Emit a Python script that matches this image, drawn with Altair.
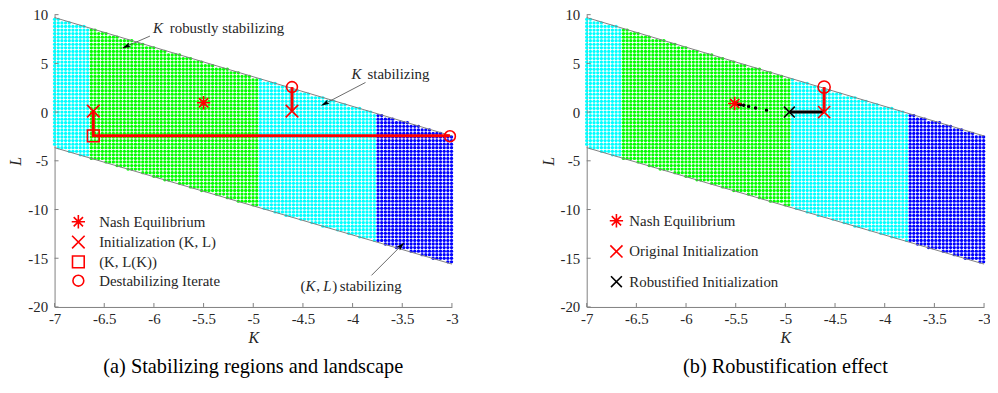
import altair as alt
import numpy as np
import pandas as pd

# ---------------- data ----------------
# sampling grid of the (K, L) plane
K_START, K_STOP, K_STEP = -7.0, -3.0, 0.037
L_START, L_STOP, L_STEP = -16.1, 10.0, 0.366
# stabilizing-region boundary lines (K, L end points)
upper_K = [-7.0, -3.0]
upper_L = [9.7, -2.45]
lower_K = [-7.0, -3.0]
lower_L = [-3.65, -15.6]
# colour bands along K
band_edges = [-7.0, -6.66, -4.95, -3.78, -3.0]
band_colors = ["#00ffff", "#00ff00", "#00ffff", "#0000ff"]

x_ticks = [-7, -6.5, -6, -5.5, -5, -4.5, -4, -3.5, -3]
y_ticks = [-20, -15, -10, -5, 0, 5, 10]

# panel (a) markers
a_kind = ["Nash Equilibrium", "Initialization (K, L)", "Initialization (K, L)",
          "(K, L(K))", "Destabilizing Iterate", "Destabilizing Iterate"]
a_K = [-5.50, -6.61, -4.61, -6.61, -3.02, -4.61]
a_L = [0.96, 0.10, 0.10, -2.44, -2.48, 2.57]
a_legend = ["Nash Equilibrium", "Initialization (K, L)", "(K, L(K))", "Destabilizing Iterate"]

# panel (a) red trajectories
a_path_id = [1, 1, 1, 2, 2]
a_path_K = [-6.61, -6.61, -3.02, -4.61, -4.61]
a_path_L = [0.10, -2.44, -2.44, 0.10, 2.57]

# panel (b) markers
b_kind = ["Nash Equilibrium", "Original Initialization", "Robustified Initialization"]
b_K = [-5.51, -4.61, -4.96]
b_L = [0.88, 0.00, 0.00]
b_legend = ["Nash Equilibrium", "Original Initialization", "Robustified Initialization"]
b_circle_K = [-4.61]
b_circle_L = [2.57]
b_red_K = [-4.61, -4.61]
b_red_L = [0.00, 2.57]
b_black_K = [-4.61, -4.96]
b_black_L = [0.00, 0.00]
b_traj_K = [-5.49, -5.47, -5.45, -5.42, -5.37, -5.30, -5.19]
b_traj_L = [0.85, 0.80, 0.76, 0.70, 0.58, 0.42, 0.20]

# annotations (panel a)
ann_reg_text = ["robustly stabilizing", "stabilizing", "(", ",", ")", "stabilizing"]
ann_reg_K = [-5.84, -3.85, -4.525, -4.365, -4.205, -4.13]
ann_reg_L = [8.64, 3.93, -17.85, -17.85, -17.85, -17.85]
ann_it_text = ["K", "K", "K", "L"]
ann_it_K = [-6.01, -4.01, -4.475, -4.295]
ann_it_L = [8.64, 3.93, -17.85, -17.85]
arrow_tail_K = [-6.04, -3.87, -3.81]
arrow_tail_L = [7.80, 3.04, -16.76]
arrow_head_K = [-6.28, -4.28, -3.51]
arrow_head_L = [6.73, 0.86, -13.70]

# ---------------- layout / style ----------------
W, H = 401, 295
FONT = "Liberation Serif"
RED = "#ff0000"
GRAY = "#808080"
TXT = "#262626"

ASTER = "M0,-1L0,1M-1,0L1,0M-0.7,-0.7L0.7,0.7M-0.7,0.7L0.7,-0.7"
XMARK = "M-1,-1L1,1M-1,1L1,-1"
HEAD = "M0,-1L0.55,1L0,0.55L-0.55,1Z"

# grid of dots inside the region
Kg = np.arange(K_START, K_STOP + 1e-9, K_STEP)
Lg = np.arange(L_START, L_STOP + 1e-9, L_STEP)
KK, LL = np.meshgrid(Kg, Lg)
KK, LL = KK.ravel(), LL.ravel()
up = np.interp(KK, upper_K, upper_L)
lo = np.interp(KK, lower_K, lower_L)
inside = (LL <= up) & (LL >= lo)
dots = pd.DataFrame({"K": KK[inside], "L": LL[inside]})
band = np.clip(np.searchsorted(band_edges, dots["K"].values, side="right") - 1, 0, 3)
dots["col"] = [band_colors[i] for i in band]

bounds_df = pd.DataFrame({
    "K": upper_K + lower_K, "L": upper_L + lower_L,
    "id": ["u", "u", "l", "l"],
})

xs = alt.Scale(domain=[-7, -3], nice=False, zero=False)
ys = alt.Scale(domain=[-20, 10], nice=False, zero=False)

xax = alt.Axis(values=x_ticks, labelExpr="datum.value + ''", ticks=False, grid=False,
               domainColor=GRAY, labelFont=FONT, labelFontSize=15, labelColor=TXT,
               labelPadding=5, title="K", titleFont=FONT, titleFontSize=16,
               titleFontStyle="italic", titleFontWeight="normal", titleColor=TXT,
               titlePadding=3, labelFlush=False)
yax = alt.Axis(values=y_ticks, labelExpr="datum.value + ''", ticks=False, grid=False,
               domainColor=GRAY, labelFont=FONT, labelFontSize=15, labelColor=TXT,
               labelPadding=7, title="L", titleFont=FONT, titleFontSize=16,
               titleFontStyle="italic", titleFontWeight="normal", titleColor=TXT,
               titleX=-39, titleY=H / 2, titleAngle=270, titleAlign="center",
               titleBaseline="middle", labelFlush=False)


def X(f="K"):
    return alt.X(f"{f}:Q", scale=xs, axis=xax)


def Y(f="L"):
    return alt.Y(f"{f}:Q", scale=ys, axis=yax)


def base_layers():
    dots_l = alt.Chart(dots).mark_circle(size=11, opacity=1).encode(
        x=X(), y=Y(), color=alt.Color("col:N", scale=None))
    bnd = alt.Chart(bounds_df).mark_line(color=GRAY, strokeWidth=1).encode(
        x=X(), y=Y(), detail="id:N")
    xt = alt.Chart(pd.DataFrame({"K": x_ticks})).mark_rule(color=GRAY).encode(
        x=X(), y=alt.value(H), y2=alt.value(H - 4))
    yt = alt.Chart(pd.DataFrame({"L": y_ticks})).mark_rule(color=GRAY).encode(
        y=Y(), x=alt.value(0), x2=alt.value(4))
    return [dots_l, bnd, xt, yt]


def marker_layer(df, legend_order, colors, shapes, sizes, lx, ly, row_pad, lab_off):
    return alt.Chart(df).mark_point(filled=False, strokeWidth=1.6, opacity=1).encode(
        x=X(), y=Y(),
        color=alt.Color("kind:N", scale=alt.Scale(domain=legend_order, range=colors),
                        legend=alt.Legend(title=None, orient="none", legendX=lx, legendY=ly,
                                          labelFont=FONT, labelFontSize=15, labelColor=TXT,
                                          symbolSize=120, symbolStrokeWidth=1.6,
                                          rowPadding=row_pad, labelOffset=lab_off,
                                          symbolFillColor="transparent")),
        shape=alt.Shape("kind:N", scale=alt.Scale(domain=legend_order, range=shapes)),
        size=alt.Size("kind:N", scale=alt.Scale(domain=legend_order, range=sizes), legend=None),
    )


# ---------------- panel (a) ----------------
a_markers = pd.DataFrame({"K": a_K, "L": a_L, "kind": a_kind})
a_path = pd.DataFrame({"K": a_path_K, "L": a_path_L, "id": a_path_id,
                       "o": list(range(len(a_path_K)))})
paths_a = alt.Chart(a_path).mark_line(color=RED, strokeWidth=3).encode(
    x=X(), y=Y(), detail="id:N", order="o:Q")

reg = pd.DataFrame({"K": ann_reg_K, "L": ann_reg_L, "t": ann_reg_text})
ita = pd.DataFrame({"K": ann_it_K, "L": ann_it_L, "t": ann_it_text})
txt_r = alt.Chart(reg).mark_text(align="left", baseline="middle", font=FONT,
                                 fontSize=15, color=TXT).encode(x=X(), y=Y(), text="t:N")
txt_i = alt.Chart(ita).mark_text(align="left", baseline="middle", font=FONT, fontStyle="italic",
                                 fontSize=15, color=TXT).encode(x=X(), y=Y(), text="t:N")

# arrow heads point from tail to head (angle in screen space, clockwise from up)
kx = W / 4.0
ly_ = H / 30.0
arr = pd.DataFrame({"K": arrow_tail_K, "L": arrow_tail_L, "K2": arrow_head_K, "L2": arrow_head_L})
arr["ang"] = (np.degrees(np.arctan2((arr["K2"] - arr["K"]) * kx,
                                    (arr["L2"] - arr["L"]) * ly_)) + 360) % 360
arr_lines = alt.Chart(arr).mark_rule(color="#444444", strokeWidth=0.8).encode(
    x=X(), y=Y(), x2="K2:Q", y2="L2:Q")
arr_heads = alt.Chart(arr).mark_point(shape=HEAD, filled=True, color="black", size=80,
                                      opacity=1).encode(
    x=X("K2"), y=Y("L2"), angle=alt.Angle("ang:Q", scale=None))

mk_a = marker_layer(a_markers, a_legend, [RED, RED, RED, RED],
                    [ASTER, XMARK, "square", "circle"], [180, 120, 90, 150],
                    lx=16, ly=201, row_pad=0, lab_off=13)

panel_a = alt.layer(*base_layers(), paths_a, arr_lines, arr_heads, txt_r, txt_i, mk_a).properties(
    width=W, height=H,
    title=alt.TitleParams("(a) Stabilizing regions and landscape", orient="bottom",
                          anchor="middle", font=FONT, fontSize=20.5, fontWeight="normal",
                          color="black", offset=12),
)

# ---------------- panel (b) ----------------
b_markers = pd.DataFrame({"K": b_K, "L": b_L, "kind": b_kind})
b_circ = alt.Chart(pd.DataFrame({"K": b_circle_K, "L": b_circle_L})).mark_point(
    shape="circle", filled=False, color=RED, size=150, strokeWidth=1.6, opacity=1).encode(
    x=X(), y=Y())
b_red = alt.Chart(pd.DataFrame({"K": b_red_K, "L": b_red_L})).mark_line(
    color=RED, strokeWidth=3).encode(x=X(), y=Y())
b_black = alt.Chart(pd.DataFrame({"K": b_black_K, "L": b_black_L})).mark_line(
    color="black", strokeWidth=3).encode(x=X(), y=Y())
b_traj = alt.Chart(pd.DataFrame({"K": b_traj_K, "L": b_traj_L})).mark_circle(
    color="black", size=12, opacity=1).encode(x=X(), y=Y())

mk_b = marker_layer(b_markers, b_legend, [RED, RED, "black"],
                    [ASTER, XMARK, XMARK], [180, 120, 120],
                    lx=22, ly=200, row_pad=11.5, lab_off=5)

panel_b = alt.layer(*base_layers(), b_red, b_black, b_traj, b_circ, mk_b).properties(
    width=W, height=H,
    title=alt.TitleParams("(b) Robustification effect", orient="bottom",
                          anchor="middle", font=FONT, fontSize=20.5, fontWeight="normal",
                          color="black", offset=12),
)

chart = alt.hconcat(panel_a, panel_b, spacing=136, bounds="flush").resolve_scale(
    color="independent", shape="independent", size="independent"
).resolve_legend(color="independent", shape="independent").properties(
    padding={"left": 0, "top": -2, "right": -1, "bottom": 0}
).configure_view(stroke=None).configure_axis(
    domainWidth=1, labelFont=FONT, titleFont=FONT
).configure_legend(labelFont=FONT).configure_text(font=FONT)

chart.save("out.html", embed_options={"renderer": "svg", "actions": False})
